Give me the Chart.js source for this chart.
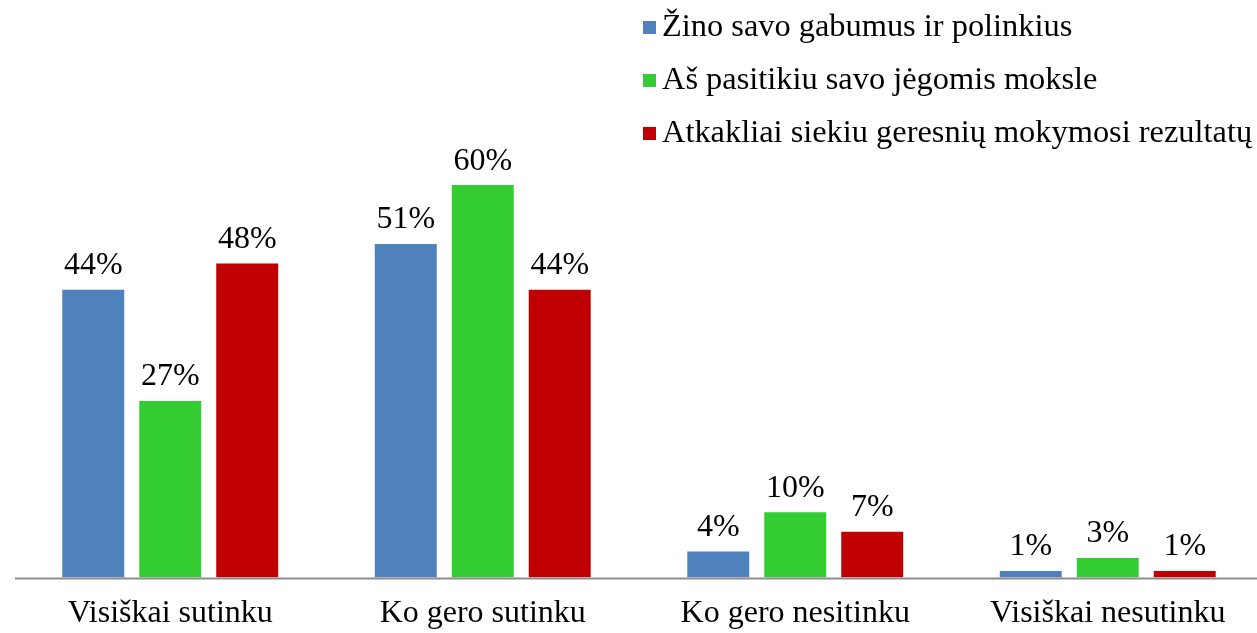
<!DOCTYPE html>
<html>
<head>
<meta charset="utf-8">
<script src="https://cdn.jsdelivr.net/npm/chart.js"></script>
<style>
    body { margin: 0; background: #fff; overflow: hidden; }
    #wrap { position: relative; width: 1257px; height: 633px; overflow: hidden; }
    #legend { position: absolute; left: 643px; top: 4px; font-family: "Liberation Serif", "Times New Roman", serif; font-size: 32.4px; color: #000; }
    #legend div { height: 53px; line-height: 42px; white-space: nowrap; }
    #legend span.box { display: inline-block; width: 13px; height: 13px; margin-right: 6px; vertical-align: 2px; }
</style>
</head>
<body>
<div id="wrap">
    <canvas id="myBarChart" width="1264" height="633"></canvas>
    <div id="legend"></div>
</div>
<script>
// ############################################ Data #############################################
const categories = ['Visiškai sutinku', 'Ko gero sutinku', 'Ko gero nesitinku', 'Visiškai nesutinku'];
const seriesNames = ['Žino savo gabumus ir polinkius', 'Aš pasitikiu savo jėgomis moksle', 'Atkakliai siekiu geresnių mokymosi rezultatų'];
const zinoValues = [44, 51, 4, 1];
const pasitikiuValues = [27, 60, 10, 3];
const siekiuValues = [48, 44, 7, 1];
const seriesColors = ['#4F81BD', '#33CC33', '#C00000'];

// ############################################ Labels plugin #############################################
const valueLabels = {
    id: 'valueLabels',
    afterDatasetsDraw(chart) {
        const ctx = chart.ctx;
        ctx.save();
        ctx.font = '32px "Liberation Serif", "Times New Roman", serif';
        ctx.fillStyle = '#000';
        ctx.textAlign = 'center';
        ctx.textBaseline = 'bottom';
        chart.data.datasets.forEach((ds, i) => {
            chart.getDatasetMeta(i).data.forEach((bar, j) => {
                ctx.fillText(ds.data[j] + '%', bar.x, bar.y - 8);
            });
        });
        ctx.restore();
    }
};

const values = [zinoValues, pasitikiuValues, siekiuValues];

document.getElementById('legend').innerHTML = seriesNames.map((name, i) =>
    '<div><span class="box" style="background:' + seriesColors[i] + '"></span>' + name + '</div>'
).join('');

// custom axis line so it spans to the canvas edge
const axisLine = {
    id: 'axisLine',
    afterDatasetsDraw(chart) {
        const ctx = chart.ctx;
        const y = chart.scales.y.getPixelForValue(0);
        ctx.save();
        ctx.strokeStyle = '#8C8C8C';
        ctx.lineWidth = 2;
        ctx.beginPath();
        ctx.moveTo(15, y + 1);
        ctx.lineTo(chart.width, y + 1);
        ctx.stroke();
        ctx.restore();
    }
};

const ctx = document.getElementById('myBarChart').getContext('2d');
new Chart(ctx, {
    type: 'bar',
    data: {
        labels: categories,
        datasets: seriesNames.map((name, i) => ({
            label: name,
            data: values[i],
            backgroundColor: seriesColors[i],
            borderWidth: 0,
            categoryPercentage: 0.739,
            barPercentage: 0.805
        }))
    },
    options: {
        responsive: false,
        animation: false,
        layout: { padding: { left: 14, right: 0, top: 0, bottom: -17 } },
        plugins: {
            legend: { display: false },
            tooltip: { enabled: false }
        },
        scales: {
            x: {
                grid: { display: false, drawTicks: false },
                border: { display: false },
                ticks: {
                    color: '#000',
                    padding: 17,
                    font: { family: '"Liberation Serif", "Times New Roman", serif', size: 32 }
                }
            },
            y: {
                display: false,
                min: 0,
                max: 88.3
            }
        }
    },
    plugins: [valueLabels, axisLine]
});
</script>
</body>
</html>
